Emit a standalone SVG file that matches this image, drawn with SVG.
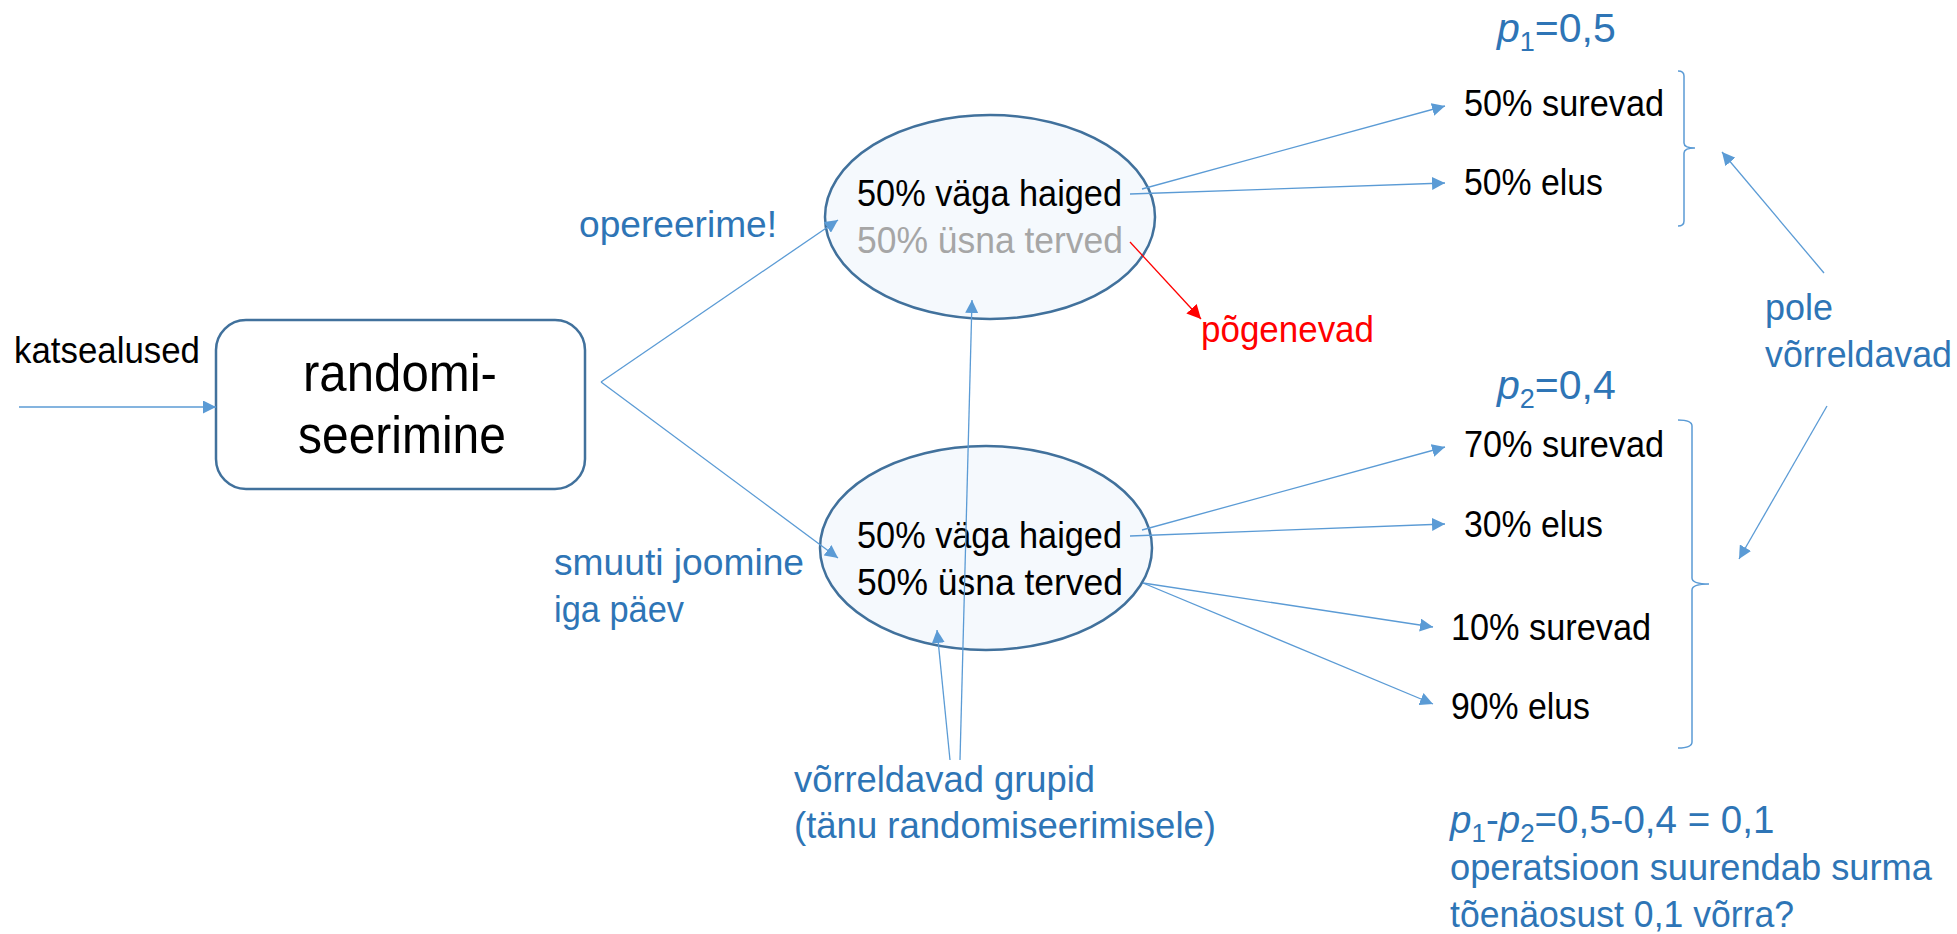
<svg xmlns="http://www.w3.org/2000/svg" width="1957" height="934" viewBox="0 0 1957 934">
  <style>
    text { font-family: "Liberation Sans", Arial, sans-serif; }
    .blk { font-size: 36px; fill: #000000; }
    .gry { font-size: 36px; fill: #a6a6a6; }
    .blu { font-size: 37px; fill: #2e75b6; }
    .red { font-size: 37px; fill: #ff0000; }
    .big { font-size: 51px; fill: #000000; text-anchor: middle; }
    .node { stroke: #41719c; stroke-width: 2.5; }
    .con { stroke: #5b9bd5; stroke-width: 1.3; fill: none; marker-end: url(#ah); }
    .conr { stroke: #ff0000; stroke-width: 1.3; fill: none; marker-end: url(#ahr); }
    .brace { stroke: #5b9bd5; stroke-width: 1.5; fill: none; }
  </style>
  <defs>
    <marker id="ah" viewBox="0 0 12 12" refX="12" refY="6" markerWidth="13" markerHeight="13" markerUnits="userSpaceOnUse" orient="auto">
      <path d="M0,0 L12,6 L0,12 Z" fill="#5b9bd5"/>
    </marker>
    <marker id="ahr" viewBox="0 0 12 12" refX="12" refY="6" markerWidth="14" markerHeight="14" markerUnits="userSpaceOnUse" orient="auto">
      <path d="M0,0 L12,6 L0,12 Z" fill="#ff0000"/>
    </marker>
  </defs>

  <rect width="1957" height="934" fill="#ffffff"/>

  <!-- input label -->
  <g id="label-katsealused">
    <text class="blk" x="14" y="363" textLength="186" lengthAdjust="spacingAndGlyphs">katsealused</text>
  </g>

  <!-- randomisation box -->
  <g id="node-randomiseerimine">
    <rect class="node" x="216" y="320" width="369" height="169" rx="30" ry="30" fill="#ffffff"/>
    <text class="big" x="400" y="391" textLength="194" lengthAdjust="spacingAndGlyphs">randomi-</text>
    <text class="big" x="402" y="453" textLength="208" lengthAdjust="spacingAndGlyphs">seerimine</text>
  </g>

  <!-- operated group -->
  <g id="node-opereeritud">
    <ellipse class="node" cx="990" cy="217" rx="165" ry="102" fill="#f5f9fd"/>
    <text class="blk" x="857" y="206" textLength="265" lengthAdjust="spacingAndGlyphs">50% väga haiged</text>
    <text class="gry" x="857" y="253" textLength="266" lengthAdjust="spacingAndGlyphs">50% üsna terved</text>
  </g>

  <!-- smoothie group -->
  <g id="node-smuuti">
    <ellipse class="node" cx="986" cy="548" rx="166" ry="102" fill="#f5f9fd"/>
    <text class="blk" x="857" y="548" textLength="265" lengthAdjust="spacingAndGlyphs">50% väga haiged</text>
    <text class="blk" x="857" y="595" textLength="266" lengthAdjust="spacingAndGlyphs">50% üsna terved</text>
  </g>

  <!-- branch labels -->
  <g id="label-opereerime">
    <text class="blu" x="579" y="237" textLength="198" lengthAdjust="spacingAndGlyphs">opereerime!</text>
  </g>
  <g id="label-smuuti">
    <text class="blu" x="554" y="575" textLength="250" lengthAdjust="spacingAndGlyphs">smuuti joomine</text>
    <text class="blu" x="554" y="622" textLength="130" lengthAdjust="spacingAndGlyphs">iga päev</text>
  </g>
  <g id="label-vorreldavad-grupid">
    <text class="blu" x="794" y="792" textLength="301" lengthAdjust="spacingAndGlyphs">võrreldavad grupid</text>
    <text class="blu" x="794" y="838" textLength="422" lengthAdjust="spacingAndGlyphs">(tänu randomiseerimisele)</text>
  </g>
  <g id="label-pogenevad">
    <text class="red" x="1201" y="342" textLength="173" lengthAdjust="spacingAndGlyphs">põgenevad</text>
  </g>

  <!-- outcomes of the operated group -->
  <g id="label-p1">
    <text class="blu" x="1497" y="42" style="font-size:41px"><tspan font-style="italic">p</tspan><tspan font-size="27" dy="9">1</tspan><tspan dy="-9">=0,5</tspan></text>
  </g>
  <g id="node-50-surevad">
    <text class="blk" x="1464" y="116" textLength="200" lengthAdjust="spacingAndGlyphs">50% surevad</text>
  </g>
  <g id="node-50-elus">
    <text class="blk" x="1464" y="195" textLength="139" lengthAdjust="spacingAndGlyphs">50% elus</text>
  </g>

  <!-- outcomes of the smoothie group -->
  <g id="label-p2">
    <text class="blu" x="1497" y="399" style="font-size:41px"><tspan font-style="italic">p</tspan><tspan font-size="27" dy="9">2</tspan><tspan dy="-9">=0,4</tspan></text>
  </g>
  <g id="node-70-surevad">
    <text class="blk" x="1464" y="457" textLength="200" lengthAdjust="spacingAndGlyphs">70% surevad</text>
  </g>
  <g id="node-30-elus">
    <text class="blk" x="1464" y="537" textLength="139" lengthAdjust="spacingAndGlyphs">30% elus</text>
  </g>
  <g id="node-10-surevad">
    <text class="blk" x="1451" y="640" textLength="200" lengthAdjust="spacingAndGlyphs">10% surevad</text>
  </g>
  <g id="node-90-elus">
    <text class="blk" x="1451" y="719" textLength="139" lengthAdjust="spacingAndGlyphs">90% elus</text>
  </g>

  <g id="label-pole-vorreldavad">
    <text class="blu" x="1765" y="320" textLength="68" lengthAdjust="spacingAndGlyphs">pole</text>
    <text class="blu" x="1765" y="367" textLength="187" lengthAdjust="spacingAndGlyphs">võrreldavad</text>
  </g>

  <g id="label-jareldus">
    <text class="blu" x="1450" y="833" style="font-size:38.5px"><tspan font-style="italic">p</tspan><tspan font-size="26" dy="9">1</tspan><tspan dy="-9">-</tspan><tspan font-style="italic">p</tspan><tspan font-size="26" dy="9">2</tspan><tspan dy="-9">=0,5-0,4 = 0,1</tspan></text>
    <text class="blu" x="1450" y="880" textLength="482" lengthAdjust="spacingAndGlyphs">operatsioon suurendab surma</text>
    <text class="blu" x="1450" y="927" textLength="344" lengthAdjust="spacingAndGlyphs">tõenäosust 0,1 võrra?</text>
  </g>

  <!-- braces grouping the outcomes -->
  <g id="braces">
    <path class="brace" d="M1678,71 Q1684,71 1684,76 V143 Q1684,148 1695,148 Q1684,148 1684,153 V221 Q1684,226 1678,226"/>
    <path class="brace" d="M1678,420 Q1692,420 1692,426 V578 Q1692,584 1709,584 Q1692,584 1692,590 V742 Q1692,748 1678,748"/>
  </g>

  <!-- connectors -->
  <g id="connectors">
    <line class="con" x1="19" y1="407" x2="216" y2="407"/>
    <line class="con" x1="601" y1="382" x2="838" y2="220"/>
    <line class="con" x1="601" y1="382" x2="838" y2="558"/>
    <line class="con" x1="1142" y1="189" x2="1445" y2="106"/>
    <line class="con" x1="1130" y1="194" x2="1445" y2="183"/>
    <line class="conr" x1="1130" y1="242" x2="1201" y2="319"/>
    <line class="con" x1="960" y1="760" x2="972" y2="300"/>
    <line class="con" x1="950" y1="760" x2="937" y2="630"/>
    <line class="con" x1="1142" y1="530" x2="1445" y2="447"/>
    <line class="con" x1="1130" y1="536" x2="1445" y2="524"/>
    <line class="con" x1="1143" y1="583" x2="1433" y2="627"/>
    <line class="con" x1="1143" y1="583" x2="1433" y2="704"/>
    <line class="con" x1="1824" y1="273" x2="1722" y2="152"/>
    <line class="con" x1="1827" y1="406" x2="1739" y2="559"/>
  </g>
</svg>
